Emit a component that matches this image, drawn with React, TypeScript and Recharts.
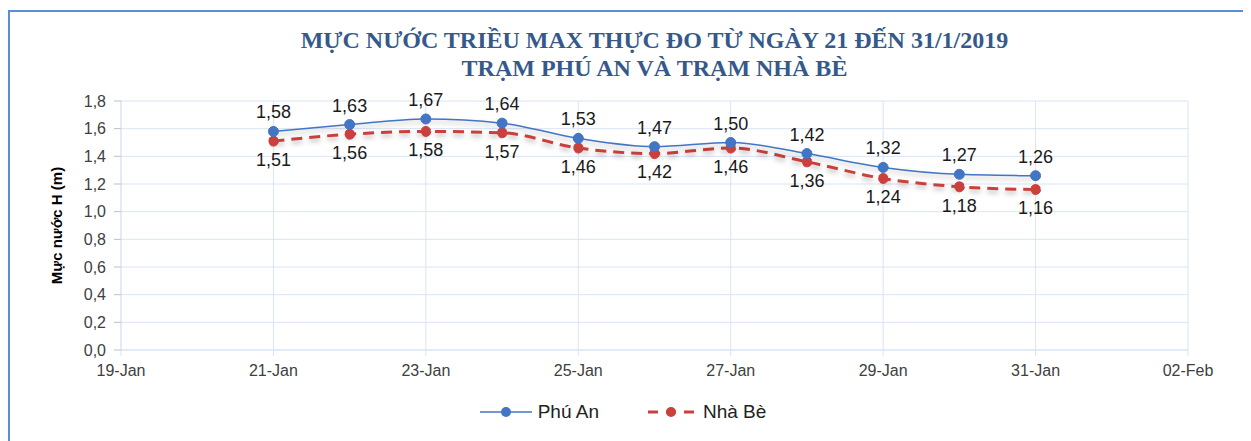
import React from 'react';
import { LineChart, Line, XAxis, YAxis, CartesianGrid, Legend, LabelList } from 'recharts';

const days = [21, 22, 23, 24, 25, 26, 27, 28, 29, 30, 31];
const phuAn = [1.58, 1.63, 1.67, 1.64, 1.53, 1.47, 1.5, 1.42, 1.32, 1.27, 1.26];
const nhaBe = [1.51, 1.56, 1.58, 1.57, 1.46, 1.42, 1.46, 1.36, 1.24, 1.18, 1.16];
const xTicks = [19, 21, 23, 25, 27, 29, 31, 33];
const xTickLabels = ['19-Jan', '21-Jan', '23-Jan', '25-Jan', '27-Jan', '29-Jan', '31-Jan', '02-Feb'];
const yTicks = [0, 0.2, 0.4, 0.6, 0.8, 1.0, 1.2, 1.4, 1.6, 1.8];
const titleLines = ['MỰC NƯỚC TRIỀU MAX THỰC ĐO TỪ NGÀY 21 ĐẾN 31/1/2019', 'TRẠM PHÚ AN VÀ TRẠM NHÀ BÈ'];
const seriesNames = ['Phú An', 'Nhà Bè'];

const data = days.map((d, i) => ({ day: d, phuAn: phuAn[i], nhaBe: nhaBe[i] }));

const BLUE = '#4275c4';
const RED = '#c9403c';
const GRID = '#d9e4f3';
const FONT = '"Liberation Sans", Arial, sans-serif';

const fmt2 = (v: number) => v.toFixed(2).replace('.', ',');
const fmt1 = (v: number) => v.toFixed(1).replace('.', ',');

const LegendContent = () => (
  <div style={{ display: 'flex', justifyContent: 'center', alignItems: 'center', fontFamily: FONT, fontSize: 19, color: '#222', paddingLeft: 50, paddingTop: 6 }}>
    <svg width={52} height={16} style={{ marginRight: 6 }}>
      <line x1={0} y1={8} x2={52} y2={8} stroke={BLUE} strokeWidth={1.5} />
      <circle cx={26} cy={8} r={5} fill={BLUE} />
    </svg>
    <span style={{ marginRight: 46 }}>{seriesNames[0]}</span>
    <svg width={52} height={16} style={{ marginRight: 6 }}>
      <line x1={0} y1={8} x2={52} y2={8} stroke={RED} strokeWidth={3} strokeDasharray="10 8" strokeDashoffset={-3} />
      <circle cx={26} cy={8} r={5} fill={RED} />
    </svg>
    <span>{seriesNames[1]}</span>
  </div>
);

export default function App() {
  return (
    <div style={{ position: 'relative', width: 1243, height: 433, overflow: 'hidden', background: '#fff' }}>
      <style>{`.shadowed .recharts-line-curve { filter: drop-shadow(0px 3px 2.5px rgba(0,0,0,0.28)); }`}</style>
      <div style={{ position: 'absolute', left: 0, top: 2, width: 1400, height: 600, borderTop: '2px solid #5b8ed6', borderLeft: '2px solid #5b8ed6' }} />
      <div style={{ position: 'absolute', left: 0, top: 18, width: 1293, textAlign: 'center', fontFamily: '"Liberation Serif", "Times New Roman", serif', fontWeight: 'bold', fontSize: 24, lineHeight: '28px', color: '#34598a' }}>
        <div>{titleLines[0]}</div>
        <div>{titleLines[1]}</div>
      </div>
      <div className="shadowed" style={{ position: 'absolute', left: 0, top: 0 }}>
        <LineChart width={1243} height={433} data={data} margin={{ top: 93, right: 63, left: 0, bottom: 0 }}>
          <CartesianGrid stroke={GRID} strokeWidth={1} vertical={true} horizontal={true} verticalValues={xTicks} />
          <XAxis
            dataKey="day"
            type="number"
            domain={[19, 33]}
            ticks={xTicks}
            interval={0}
            height={45}
            axisLine={{ stroke: GRID }}
            tickLine={{ stroke: GRID }}
            tickSize={6}
            tickMargin={9}
            tick={{ fill: '#404040', fontSize: 16, fontFamily: FONT }}
            tickFormatter={(v: number) => xTickLabels[xTicks.indexOf(v)]}
          />
          <YAxis
            type="number"
            domain={[0, 1.8]}
            ticks={yTicks}
            interval={0}
            width={113}
            axisLine={{ stroke: GRID }}
            tickLine={{ stroke: '#bfbfbf' }}
            tickSize={7}
            tickMargin={8}
            tick={{ fill: '#404040', fontSize: 16, fontFamily: FONT }}
            tickFormatter={(v: number) => fmt1(v)}
            label={{
              value: 'Mực nước H (m)',
              angle: -90,
              position: 'insideLeft',
              offset: 49,
              style: { fontFamily: FONT, fontSize: 15, fontWeight: 'bold', fill: '#000', textAnchor: 'middle' },
            }}
          />
          <Legend verticalAlign="bottom" height={46} content={<LegendContent />} />
          <Line
            type="monotone"
            dataKey="nhaBe"
            stroke={RED}
            strokeWidth={3}
            strokeDasharray="11 7"
            dot={{ r: 5, fill: RED, stroke: RED, strokeWidth: 1 }}
            isAnimationActive={false}
          >
            <LabelList dataKey="nhaBe" position="bottom" offset={12} formatter={(v: number) => fmt2(v)} style={{ fontFamily: FONT, fontSize: 18, fill: '#1a1a1a' }} />
          </Line>
          <Line
            type="monotone"
            dataKey="phuAn"
            stroke={BLUE}
            strokeWidth={1.5}
            dot={{ r: 5, fill: BLUE, stroke: BLUE, strokeWidth: 1 }}
            isAnimationActive={false}
          >
            <LabelList dataKey="phuAn" position="top" offset={13} formatter={(v: number) => fmt2(v)} style={{ fontFamily: FONT, fontSize: 18, fill: '#1a1a1a' }} />
          </Line>
        </LineChart>
      </div>
    </div>
  );
}
